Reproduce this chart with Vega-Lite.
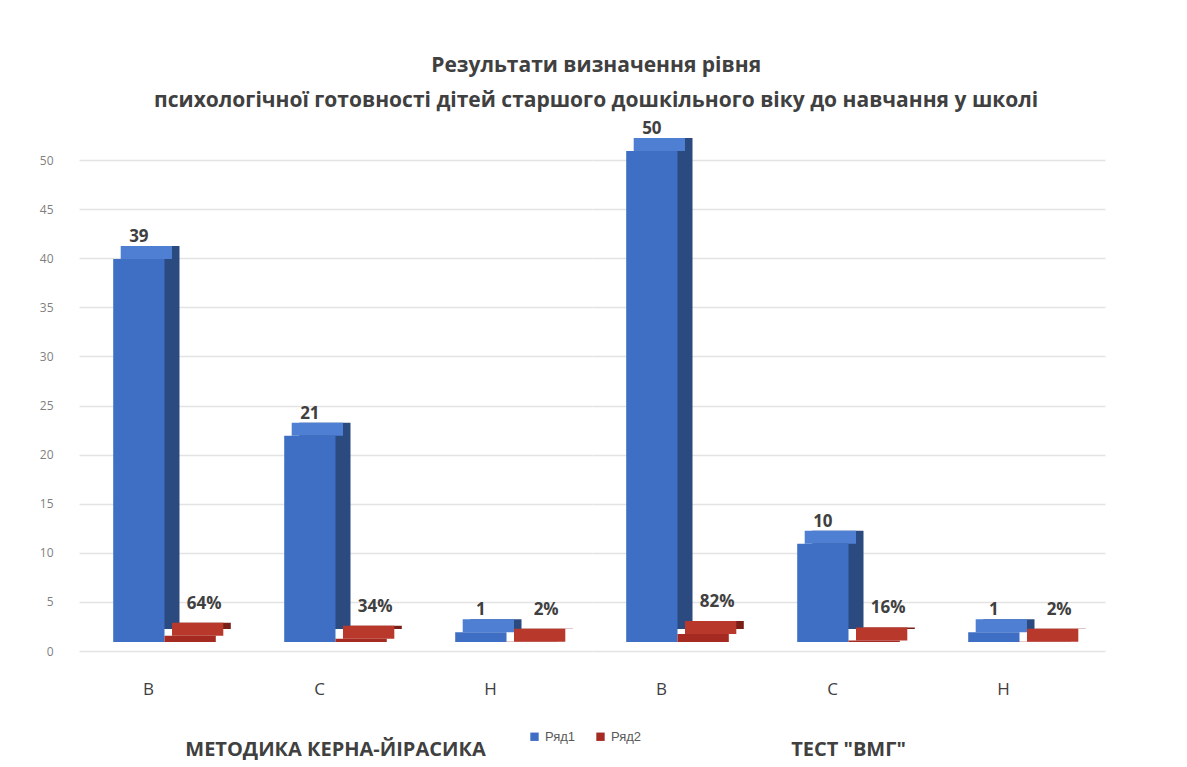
{
  "$schema": "https://vega.github.io/schema/vega-lite/v6.json",
  "background": "white",
  "padding": {"left": 39, "top": 55, "right": 10, "bottom": 5},
  "title": {
    "text": ["Результати визначення рівня", "психологічної готовності дітей старшого дошкільного віку до навчання у школі"],
    "fontSize": 21,
    "fontWeight": "bold",
    "font": "Open Sans",
    "color": "#404040",
    "lineHeight": 35,
    "offset": 9,
    "dx": 24,
    "anchor": "middle"
  },
  "data": {
    "values": [
      {"group": "МЕТОДИКА КЕРНА-ЙІРАСИКА", "cat": "В", "series": "Ряд1", "value": 39, "label": "39"},
      {"group": "МЕТОДИКА КЕРНА-ЙІРАСИКА", "cat": "В", "series": "Ряд2", "value": 0.64, "label": "64%"},
      {"group": "МЕТОДИКА КЕРНА-ЙІРАСИКА", "cat": "С", "series": "Ряд1", "value": 21, "label": "21"},
      {"group": "МЕТОДИКА КЕРНА-ЙІРАСИКА", "cat": "С", "series": "Ряд2", "value": 0.34, "label": "34%"},
      {"group": "МЕТОДИКА КЕРНА-ЙІРАСИКА", "cat": "Н", "series": "Ряд1", "value": 1, "label": "1"},
      {"group": "МЕТОДИКА КЕРНА-ЙІРАСИКА", "cat": "Н", "series": "Ряд2", "value": 0.02, "label": "2%"},
      {"group": "ТЕСТ \"ВМГ\"", "cat": "В", "series": "Ряд1", "value": 50, "label": "50"},
      {"group": "ТЕСТ \"ВМГ\"", "cat": "В", "series": "Ряд2", "value": 0.82, "label": "82%"},
      {"group": "ТЕСТ \"ВМГ\"", "cat": "С", "series": "Ряд1", "value": 10, "label": "10"},
      {"group": "ТЕСТ \"ВМГ\"", "cat": "С", "series": "Ряд2", "value": 0.16, "label": "16%"},
      {"group": "ТЕСТ \"ВМГ\"", "cat": "Н", "series": "Ряд1", "value": 1, "label": "1"},
      {"group": "ТЕСТ \"ВМГ\"", "cat": "Н", "series": "Ряд2", "value": 0.02, "label": "2%"}
    ]
  },
  "facet": {
    "column": {
      "field": "group",
      "type": "nominal",
      "sort": ["МЕТОДИКА КЕРНА-ЙІРАСИКА", "ТЕСТ \"ВМГ\""],
      "header": {
        "title": null,
        "labelOrient": "bottom",
        "labelFontSize": 20,
        "labelFont": "Open Sans",
        "labelFontWeight": "bold",
        "labelColor": "#404040",
        "labelPadding": 43
      }
    }
  },
  "spacing": 0,
  "spec": {
    "width": 513,
    "height": 491,
    "encoding": {
      "x": {
        "field": "cat",
        "type": "nominal",
        "sort": ["В", "С", "Н"],
        "scale": {"paddingInner": 0.4, "paddingOuter": 0.2},
        "axis": {
          "title": null,
          "labelAngle": 0,
          "labelFontSize": 17,
          "labelFont": "Open Sans",
          "labelColor": "#404040",
          "labelPadding": 30,
          "labelOffset": -16,
          "ticks": false,
          "domain": false,
          "grid": false
        }
      },
      "y": {
        "field": "value",
        "type": "quantitative",
        "scale": {"domain": [0, 50], "nice": false},
        "axis": {
          "title": null,
          "values": [0, 5, 10, 15, 20, 25, 30, 35, 40, 45, 50],
          "labelFontSize": 12,
          "labelFont": "Open Sans",
          "labelColor": "#7f7f7f",
          "labelPadding": 26,
          "ticks": false,
          "domain": false,
          "grid": true,
          "gridColor": "#e3e3e3",
          "gridWidth": 1.5
        }
      }
    },
    "layer": [
      {
        "transform": [{"filter": "datum.series === 'Ряд1'"}],
        "mark": {"type": "bar", "width": {"band": 0.5}, "xOffset": -10.65, "yOffset": -22, "y2Offset": -22, "color": "#2b4a80"}
      },
      {
        "transform": [{"filter": "datum.series === 'Ряд2'"}],
        "mark": {"type": "bar", "width": {"band": 0.5}, "xOffset": 40.65, "yOffset": -22, "y2Offset": -22, "color": "#7a1e18"}
      },
      {
        "transform": [{"filter": "datum.series === 'Ряд1'"}],
        "mark": {"type": "bar", "width": {"band": 0.5}, "xOffset": -18.15, "yOffset": -22, "y2Offset": -9, "color": "#4f7fd3"},
        "encoding": {"y2": {"field": "value"}}
      },
      {
        "transform": [{"filter": "datum.series === 'Ряд2'"}],
        "mark": {"type": "bar", "width": {"band": 0.5}, "xOffset": 33.15, "yOffset": -22, "y2Offset": -9, "color": "#b8382b"},
        "encoding": {"y2": {"field": "value"}}
      },
      {
        "mark": {"type": "bar", "yOffset": -9, "y2Offset": -9},
        "encoding": {
          "xOffset": {"field": "series", "type": "nominal", "sort": ["Ряд1", "Ряд2"]},
          "color": {
            "field": "series",
            "type": "nominal",
            "scale": {"domain": ["Ряд1", "Ряд2"], "range": ["#3f6fc4", "#a52a22"]},
            "legend": {
              "title": null,
              "orient": "none",
              "direction": "horizontal",
              "legendX": 449,
              "legendY": 570,
              "labelFontSize": 13,
              "labelColor": "#595959",
              "symbolType": "square",
              "symbolSize": 70,
              "columnPadding": 18
            }
          }
        }
      },
      {
        "transform": [{"filter": "datum.series === 'Ряд1'"}],
        "mark": {"type": "text", "baseline": "bottom", "dy": -22, "fontSize": 17, "fontWeight": "bold", "font": "Open Sans", "color": "#404040"},
        "encoding": {
          "xOffset": {"field": "series", "type": "nominal", "sort": ["Ряд1", "Ряд2"], "scale": {"domain": ["Ряд1", "Ряд2"]}},
          "text": {"field": "label"}
        }
      },
      {
        "transform": [{"filter": "datum.series === 'Ряд2'"}],
        "mark": {"type": "text", "baseline": "bottom", "dy": -32, "dx": 14, "fontSize": 17, "fontWeight": "bold", "font": "Open Sans", "color": "#404040"},
        "encoding": {
          "xOffset": {"field": "series", "type": "nominal", "sort": ["Ряд1", "Ряд2"], "scale": {"domain": ["Ряд1", "Ряд2"]}},
          "text": {"field": "label"}
        }
      }
    ]
  },
  "config": {"view": {"stroke": null}}
}
